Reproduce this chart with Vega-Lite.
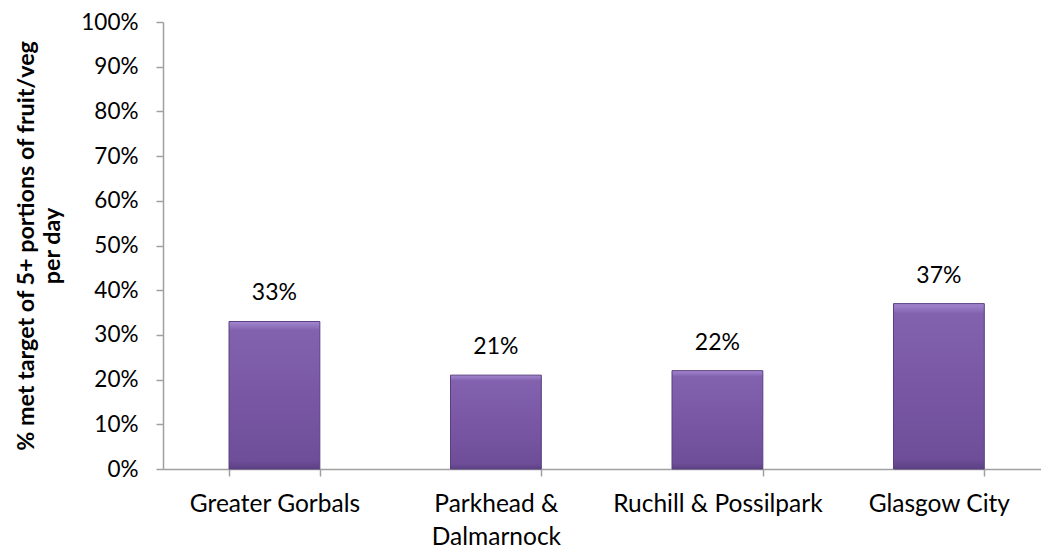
{
  "$schema": "https://vega.github.io/schema/vega-lite/v6.json",
  "width": 878,
  "height": 447,
  "autosize": {"type": "none"},
  "padding": {"left": 163, "top": 22, "right": 0, "bottom": 79},
  "background": "white",
  "config": {"view": {"stroke": null}, "font": "Lato"},
  "data": {"values": [
    {"area": "Greater Gorbals", "value": 0.33},
    {"area": "Parkhead & Dalmarnock", "value": 0.21},
    {"area": "Ruchill & Possilpark", "value": 0.22},
    {"area": "Glasgow City", "value": 0.37}
  ]},
  "encoding": {
    "x": {
      "field": "area", "type": "nominal", "sort": null,
      "scale": {"paddingInner": 0.59, "paddingOuter": 0.277, "align": 0.538},
      "axis": {
        "title": null, "labelAngle": 0, "labelFont": "Lato", "labelFontSize": 24.5,
        "labelColor": "#000000", "labelPadding": 16, "labelLineHeight": 33, "labelLimit": 0,
        "labelExpr": "datum.label == 'Parkhead & Dalmarnock' ? ['Parkhead &', 'Dalmarnock'] : datum.label",
        "tickBand": "extent", "tickSize": 7, "tickColor": "#A0A0A0", "domainColor": "#A0A0A0",
        "domainWidth": 1.5, "tickWidth": 1.5, "labelBaseline": "top"
      }
    },
    "y": {
      "field": "value", "type": "quantitative",
      "scale": {"domain": [0, 1], "nice": false},
      "axis": {
        "title": ["% met target of 5+ portions of fruit/veg", "per day"],
        "titleFont": "Lato", "titleFontSize": 23.3, "titleFontWeight": "bold", "titleColor": "#000000",
        "titleLineHeight": 26, "titlePadding": 16,
        "format": ".0%", "values": [0, 0.1, 0.2, 0.3, 0.4, 0.5, 0.6, 0.7, 0.8, 0.9, 1],
        "labelFont": "Lato", "labelFontSize": 22.5, "labelColor": "#000000", "labelPadding": 18,
        "grid": false, "tickSize": 7, "tickColor": "#A0A0A0", "domainColor": "#A0A0A0",
        "domainWidth": 1.5, "tickWidth": 1.5
      }
    }
  },
  "layer": [
    {
      "mark": {
        "type": "bar",
        "stroke": "#5A3F80", "strokeWidth": 1,
        "fill": {
          "x1": 0, "y1": 0, "x2": 0, "y2": 1, "gradient": "linear",
          "stops": [
            {"offset": 0, "color": "#A487D0"},
            {"offset": 0.06, "color": "#8262AF"},
            {"offset": 0.5, "color": "#7957A5"},
            {"offset": 0.94, "color": "#6E4E99"},
            {"offset": 1, "color": "#5C4184"}
          ]
        }
      }
    },
    {
      "mark": {"type": "text", "baseline": "bottom", "dy": -16, "fontSize": 23, "font": "Lato", "color": "#000000"},
      "encoding": {"text": {"field": "value", "type": "quantitative", "format": ".0%"}}
    }
  ]
}
